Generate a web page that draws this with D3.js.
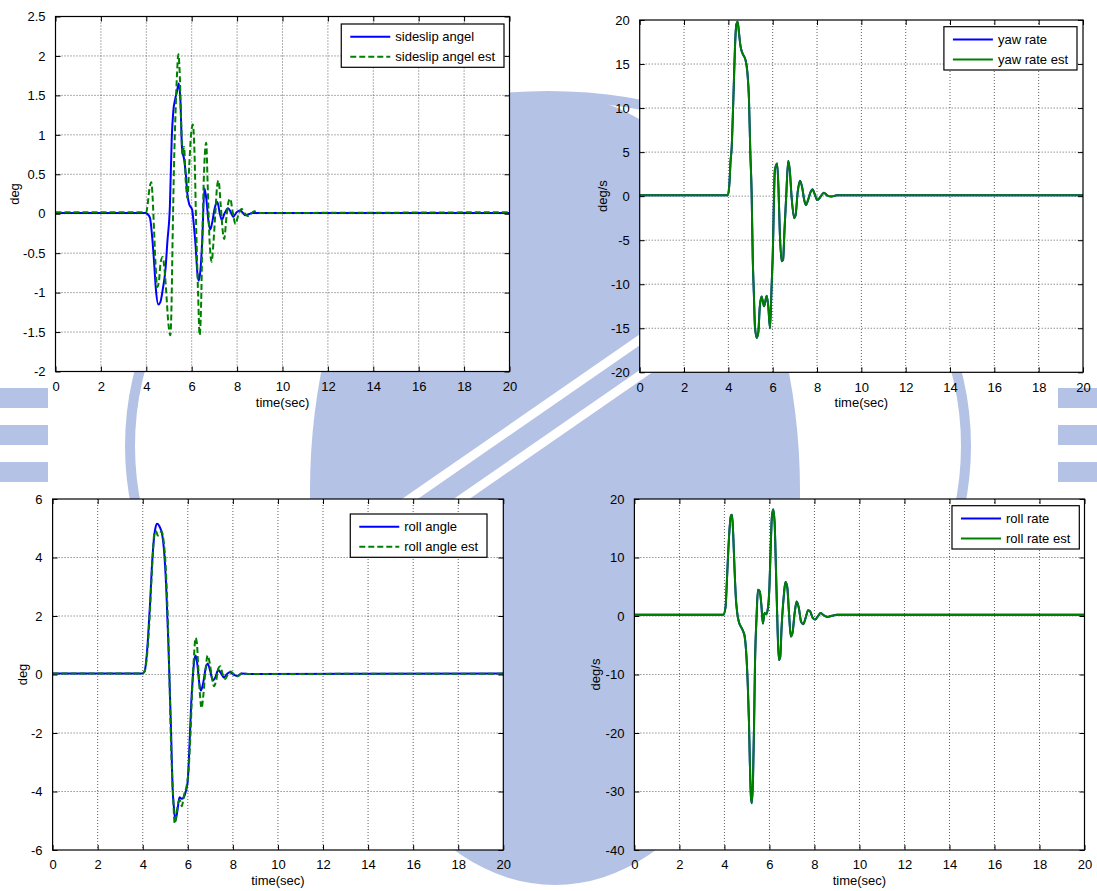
<!DOCTYPE html>
<html><head><meta charset="utf-8">
<script src="https://cdn.jsdelivr.net/npm/d3@7"></script>
<style>
body{margin:0;background:#fff;}
svg{display:block;font-family:"Liberation Sans",Arial,Helvetica,sans-serif;}
</style></head><body>
<svg id="fig" width="1097" height="891"></svg>
<script>
// ---------------- data ----------------
const timeDomain = [0, 20];
const xTicks = [0, 2, 4, 6, 8, 10, 12, 14, 16, 18, 20];
const sideslipTicks = [-2, -1.5, -1, -0.5, 0, 0.5, 1, 1.5, 2, 2.5];
const yawTicks = [-20, -15, -10, -5, 0, 5, 10, 15, 20];
const rollAngleTicks = [-6, -4, -2, 0, 2, 4, 6];
const rollRateTicks = [-40, -30, -20, -10, 0, 10, 20];

const sideslip = [[0,0.01],[4.0,0.01],[4.03,0.0],[4.16,-0.05],[4.26,-0.3],[4.34,-0.6],[4.42,-0.95],[4.53,-1.15],[4.62,-1.12],[4.73,-0.95],[4.84,-0.72],[4.93,-0.35],[5.04,0.1],[5.12,0.95],[5.19,1.3],[5.27,1.45],[5.35,1.55],[5.43,1.65],[5.5,1.45],[5.58,0.8],[5.66,0.7],[5.74,0.5],[5.81,0.25],[5.89,0.12],[6.02,0.05],[6.08,-0.1],[6.17,-0.4],[6.25,-0.75],[6.31,-0.85],[6.39,-0.7],[6.47,-0.3],[6.56,0.32],[6.64,0.2],[6.74,-0.1],[6.82,-0.2],[6.91,-0.1],[7.02,0.08],[7.13,0.15],[7.24,0.0],[7.33,-0.08],[7.44,0.0],[7.6,0.07],[7.72,0.02],[7.83,-0.04],[7.98,0.02],[8.14,0.04],[8.37,-0.02],[8.68,0.01],[9.0,0.01],[20,0.01]];
const sideslipEst = [[0,0.02],[4.0,0.02],[4.06,0.12],[4.13,0.3],[4.22,0.4],[4.28,0.2],[4.34,-0.2],[4.4,-0.6],[4.48,-0.93],[4.56,-0.85],[4.63,-0.62],[4.72,-0.55],[4.8,-0.7],[4.88,-1.0],[4.96,-1.35],[5.06,-1.54],[5.1,-1.3],[5.16,-0.3],[5.22,0.6],[5.29,1.3],[5.35,1.75],[5.41,2.02],[5.47,1.8],[5.53,1.2],[5.6,0.75],[5.66,0.85],[5.74,0.4],[5.81,0.2],[5.89,0.6],[5.97,1.0],[6.05,1.13],[6.12,0.8],[6.2,-0.2],[6.28,-1.0],[6.35,-1.54],[6.41,-1.2],[6.47,-0.3],[6.54,0.5],[6.64,0.9],[6.7,0.4],[6.78,-0.3],[6.88,-0.61],[6.95,-0.4],[7.04,0.0],[7.12,0.35],[7.18,0.42],[7.28,0.1],[7.36,-0.2],[7.43,-0.32],[7.53,-0.05],[7.62,0.15],[7.7,0.19],[7.8,0.03],[7.93,-0.13],[8.05,-0.02],[8.2,0.06],[8.35,0.0],[8.5,-0.03],[8.75,0.03],[9.0,0.01],[20,0.02]];

const yawRate = [[0,0.1],[3.98,0.1],[4.05,1.5],[4.1,4],[4.15,5.5],[4.2,9],[4.25,13],[4.3,17],[4.36,19.5],[4.42,19.8],[4.48,18.5],[4.55,17],[4.64,16.2],[4.77,15.5],[4.86,14],[4.93,11],[4.99,5],[5.05,0.4],[5.1,-7],[5.15,-11],[5.2,-14.8],[5.28,-16.1],[5.35,-15.5],[5.42,-12.5],[5.5,-11.4],[5.61,-12.5],[5.73,-11.3],[5.8,-12.5],[5.88,-15],[5.94,-11],[6.0,-6.9],[6.1,3.0],[6.2,3.7],[6.26,1],[6.32,-4],[6.4,-7.4],[6.47,-7.2],[6.53,-4],[6.61,0],[6.7,4.0],[6.77,3.0],[6.85,0],[6.97,-2.5],[7.03,-2.2],[7.13,0.5],[7.23,1.76],[7.33,1.0],[7.42,-0.4],[7.5,-1.0],[7.6,-0.4],[7.7,0.4],[7.79,0.78],[7.9,0.2],[8.01,-0.43],[8.15,-0.1],[8.31,0.4],[8.45,0.1],[8.66,-0.05],[8.9,0.1],[20,0.1]];
const yawRateEst = [[0,0.1],[3.98,0.1],[4.05,1.5],[4.1,4],[4.15,5.5],[4.2,9],[4.25,13],[4.3,17],[4.36,19.5],[4.42,19.8],[4.48,18.5],[4.55,17],[4.64,16.2],[4.77,15.5],[4.86,14],[4.93,11],[4.99,5],[5.05,0.4],[5.1,-7],[5.15,-11],[5.2,-14.8],[5.28,-16.1],[5.35,-15.5],[5.42,-12.5],[5.5,-11.4],[5.61,-12.5],[5.73,-11.3],[5.8,-12.5],[5.88,-15],[5.94,-11],[6.0,-6.9],[6.1,3.0],[6.2,3.7],[6.26,1],[6.32,-4],[6.4,-7.4],[6.47,-7.2],[6.53,-4],[6.61,0],[6.7,4.0],[6.77,3.0],[6.85,0],[6.97,-2.5],[7.03,-2.2],[7.13,0.5],[7.23,1.76],[7.33,1.0],[7.42,-0.4],[7.5,-1.0],[7.6,-0.4],[7.7,0.4],[7.79,0.78],[7.9,0.2],[8.01,-0.43],[8.15,-0.1],[8.31,0.4],[8.45,0.1],[8.66,-0.05],[8.9,0.1],[20,0.1]];

const rollAngle = [[0,0.03],[3.97,0.03],[4.08,0.1],[4.17,0.6],[4.23,1.2],[4.33,2.5],[4.4,3.6],[4.48,4.5],[4.56,5.0],[4.64,5.15],[4.75,5.05],[4.86,4.8],[4.95,4.2],[5.04,3.0],[5.14,1.0],[5.2,-0.5],[5.26,-2.0],[5.32,-3.8],[5.39,-4.6],[5.45,-5.0],[5.53,-4.7],[5.63,-4.2],[5.73,-4.25],[5.82,-4.2],[5.91,-4.0],[5.99,-3.7],[6.07,-2.5],[6.15,-1.0],[6.23,0.0],[6.29,0.5],[6.35,0.65],[6.43,0.3],[6.51,-0.3],[6.58,-0.55],[6.68,-0.3],[6.79,0.2],[6.88,0.38],[7.0,0.1],[7.11,-0.2],[7.22,-0.1],[7.35,0.15],[7.47,0.05],[7.6,-0.1],[7.72,0.0],[7.86,0.08],[8.02,0.0],[8.17,-0.05],[8.4,0.03],[8.72,0.02],[20,0.03]];
const rollAngleEst = [[0,0.03],[3.97,0.03],[4.08,0.1],[4.17,0.5],[4.28,1.6],[4.36,2.8],[4.44,4.0],[4.51,4.8],[4.59,4.9],[4.67,4.75],[4.75,4.8],[4.83,4.9],[4.92,4.6],[5.01,3.8],[5.1,2.2],[5.18,0.0],[5.26,-2.5],[5.34,-4.0],[5.42,-5.1],[5.49,-4.8],[5.57,-4.4],[5.65,-4.3],[5.73,-4.5],[5.84,-4.1],[5.95,-3.8],[6.04,-3.2],[6.12,-2.0],[6.19,-0.6],[6.28,0.7],[6.34,1.25],[6.4,1.1],[6.46,0.3],[6.54,-0.7],[6.61,-1.15],[6.69,-0.7],[6.79,0.2],[6.88,0.65],[6.97,0.4],[7.07,-0.1],[7.16,-0.4],[7.26,-0.2],[7.35,0.2],[7.44,0.28],[7.53,0.05],[7.66,-0.15],[7.78,0.0],[7.9,0.1],[8.06,0.0],[8.22,-0.06],[8.4,0.04],[8.72,0.02],[20,0.03]];

const rollRate = [[0,0.2],[3.95,0.2],[4.05,1.5],[4.11,6],[4.17,11],[4.23,15],[4.29,17.2],[4.34,17.3],[4.39,14],[4.45,8],[4.51,3],[4.57,0.5],[4.64,-1.0],[4.73,-1.8],[4.82,-2.5],[4.9,-3.5],[4.98,-7],[5.04,-12],[5.09,-18],[5.13,-25],[5.18,-31],[5.22,-32],[5.27,-28],[5.32,-18],[5.36,-8],[5.43,0],[5.49,4.5],[5.57,4.2],[5.64,2],[5.71,-1.3],[5.78,0.5],[5.86,0.3],[5.94,1.5],[6.0,5],[6.05,11],[6.11,17],[6.17,18.2],[6.23,16],[6.29,8],[6.36,-2],[6.42,-7.5],[6.48,-7],[6.54,-2],[6.64,3.5],[6.71,5.8],[6.79,5.0],[6.87,0.5],[6.95,-3.5],[7.02,-3.0],[7.12,0.5],[7.21,2.5],[7.3,1.5],[7.41,-1.0],[7.5,-1.4],[7.61,-0.3],[7.72,1.0],[7.81,0.8],[7.92,-0.3],[8.03,-0.6],[8.16,0.0],[8.28,0.5],[8.42,0.1],[8.57,-0.15],[8.78,0.05],[9.0,0.2],[20,0.2]];
const rollRateEst = [[0,0.2],[3.95,0.2],[4.05,1.5],[4.11,6],[4.17,11],[4.23,15],[4.29,17.2],[4.34,17.3],[4.39,14],[4.45,8],[4.51,3],[4.57,0.5],[4.64,-1.0],[4.73,-1.8],[4.82,-2.5],[4.9,-3.5],[4.98,-7],[5.04,-12],[5.09,-18],[5.13,-25],[5.18,-31],[5.22,-32],[5.27,-28],[5.32,-18],[5.36,-8],[5.43,0],[5.49,4.5],[5.57,4.2],[5.64,2],[5.71,-1.3],[5.78,0.5],[5.86,0.3],[5.94,1.5],[6.0,5],[6.05,11],[6.11,17],[6.17,18.2],[6.23,16],[6.29,8],[6.36,-2],[6.42,-7.5],[6.48,-7],[6.54,-2],[6.64,3.5],[6.71,5.8],[6.79,5.0],[6.87,0.5],[6.95,-3.5],[7.02,-3.0],[7.12,0.5],[7.21,2.5],[7.3,1.5],[7.41,-1.0],[7.5,-1.4],[7.61,-0.3],[7.72,1.0],[7.81,0.8],[7.92,-0.3],[8.03,-0.6],[8.16,0.0],[8.28,0.5],[8.42,0.1],[8.57,-0.15],[8.78,0.05],[9.0,0.2],[20,0.2]];

const xLabel = "time(sec)";
const panelsData = [
  {ylabel:"deg",   yTicks:sideslipTicks,  series:[{name:"sideslip angel", values:sideslip, color:"#0000ff", dash:null},{name:"sideslip angel est", values:sideslipEst, color:"#008000", dash:"6,3"}]},
  {ylabel:"deg/s", yTicks:yawTicks,       series:[{name:"yaw rate", values:yawRate, color:"#0000ff", dash:null},{name:"yaw rate est", values:yawRateEst, color:"#008000", dash:null}]},
  {ylabel:"deg",   yTicks:rollAngleTicks, series:[{name:"roll angle", values:rollAngle, color:"#0000ff", dash:null},{name:"roll angle est", values:rollAngleEst, color:"#008000", dash:"6,3"}]},
  {ylabel:"deg/s", yTicks:rollRateTicks,  series:[{name:"roll rate", values:rollRate, color:"#0000ff", dash:null},{name:"roll rate est", values:rollRateEst, color:"#008000", dash:null}]}
];

// ---------------- layout ----------------
const layout = [
  {left:55.5, right:509.5, top:16.5, bottom:371.5, ylabDx:-41.5, legRight:504,  legTop:24},
  {left:639.7,right:1083,  top:20,   bottom:372.3, ylabDx:-37.5, legRight:1077, legTop:26.7},
  {left:52.6, right:503.3, top:499,  bottom:850,   ylabDx:-30,   legRight:487,  legTop:514},
  {left:634.4,right:1084.5,top:499,  bottom:850,   ylabDx:-39,   legRight:1079.3,legTop:505.7}
];

const svg = d3.select("#fig");
svg.append("rect").attr("width",1097).attr("height",891).attr("fill","#fff");

// ---------------- faint background watermark ----------------
const wmColor = "#b4c2e5";
const wm = svg.append("g").attr("fill", wmColor);
const wcx = 548, wcy = 446;
wm.append("ellipse").attr("cx",555).attr("cy",490).attr("rx",245).attr("ry",395);
[[0,388,48,20],[0,425,48,20],[0,462,48,20],[1058,388,39,20],[1058,425,39,20],[1058,462,39,20]]
  .forEach(r => wm.append("rect").attr("x",r[0]).attr("y",r[1]).attr("width",r[2]).attr("height",r[3]));
svg.append("ellipse").attr("cx",wcx).attr("cy",wcy).attr("rx",418).attr("ry",350)
  .attr("fill","none").attr("stroke",wmColor).attr("stroke-width",10);
const wst = svg.append("g").attr("stroke","#fff").attr("stroke-width",9);
wst.append("line").attr("x1",300).attr("y1",575).attr("x2",820).attr("y2",215);
wst.append("line").attr("x1",330).attr("y1",590).attr("x2",850).attr("y2",230);

// ---------------- panels ----------------
const fmt = d => String(d);
const tickLen = 5;

panelsData.forEach((pd, i) => {
  const L = layout[i];
  const x = d3.scaleLinear().domain(timeDomain).range([L.left, L.right]);
  const yExt = d3.extent(pd.yTicks);
  const y = d3.scaleLinear().domain(yExt).range([L.bottom, L.top]);
  const g = svg.append("g");
  const w = L.right - L.left, h = L.bottom - L.top;

  g.append("rect").attr("x",L.left).attr("y",L.top).attr("width",w).attr("height",h).attr("fill","#fff");

  const grid = g.append("g").attr("stroke","#3a3a3a").attr("stroke-width",1).attr("stroke-dasharray","1,2").attr("stroke-opacity",0.8);
  xTicks.slice(1,-1).forEach(t => grid.append("line").attr("x1",x(t)).attr("x2",x(t)).attr("y1",L.top).attr("y2",L.bottom));
  pd.yTicks.slice(1,-1).forEach(t => grid.append("line").attr("y1",y(t)).attr("y2",y(t)).attr("x1",L.left).attr("x2",L.right));

  const cid = "clip" + i;
  svg.append("clipPath").attr("id",cid).append("rect").attr("x",L.left).attr("y",L.top).attr("width",w).attr("height",h);

  const line = d3.line().x(d => x(d[0])).y(d => y(d[1])).curve(d3.curveMonotoneX);
  const lg = g.append("g").attr("clip-path",`url(#${cid})`);
  pd.series.forEach(s => {
    lg.append("path").datum(s.values).attr("d", line).attr("fill","none")
      .attr("stroke", s.color).attr("stroke-width", 2)
      .attr("stroke-dasharray", s.dash).attr("stroke-linejoin","round");
  });

  g.append("rect").attr("x",L.left).attr("y",L.top).attr("width",w).attr("height",h)
    .attr("fill","none").attr("stroke","#000").attr("stroke-width",1.2);

  const axB = d3.axisBottom(x).tickValues(xTicks).tickFormat(fmt).tickSizeInner(-tickLen).tickSizeOuter(0).tickPadding(10);
  const gb = g.append("g").attr("transform",`translate(0,${L.bottom})`).call(axB);
  const axT = d3.axisTop(x).tickValues(xTicks).tickFormat("").tickSizeInner(-tickLen).tickSizeOuter(0);
  const gt = g.append("g").attr("transform",`translate(0,${L.top})`).call(axT);
  const axL = d3.axisLeft(y).tickValues(pd.yTicks).tickFormat(fmt).tickSizeInner(-tickLen).tickSizeOuter(0).tickPadding(10);
  const gl = g.append("g").attr("transform",`translate(${L.left},0)`).call(axL);
  const axR = d3.axisRight(y).tickValues(pd.yTicks).tickFormat("").tickSizeInner(-tickLen).tickSizeOuter(0);
  const gr = g.append("g").attr("transform",`translate(${L.right},0)`).call(axR);
  [gb,gt,gl,gr].forEach(a => {
    a.select(".domain").remove();
    a.selectAll("line").attr("stroke","#000");
    a.selectAll("text").attr("fill","#000").attr("font-size","13px").attr("font-family","'Liberation Sans',Arial,sans-serif");
  });

  g.append("text").attr("x",(L.left+L.right)/2).attr("y",L.bottom+35).attr("text-anchor","middle")
    .attr("font-size","13px").text(xLabel);
  g.append("text").attr("transform",`translate(${L.left+L.ylabDx},${(L.top+L.bottom)/2}) rotate(-90)`)
    .attr("text-anchor","middle").attr("dy","0.35em").attr("font-size","13px").text(pd.ylabel);

  const leg = g.append("g");
  const box = leg.append("rect").attr("fill","#fff").attr("stroke","#000").attr("stroke-width",1.2);
  const rowsY = [12.7, 32.7];
  let maxW = 0;
  const texts = pd.series.map((s, k) => {
    const t = leg.append("text").attr("font-size","13px").attr("dy","0.35em").text(s.name);
    maxW = Math.max(maxW, t.node().getComputedTextLength());
    return t;
  });
  const bw = 9 + 40 + 5 + maxW + 9, bh = 43.3;
  const bx = L.legRight - bw, by = L.legTop;
  box.attr("x",bx).attr("y",by).attr("width",bw).attr("height",bh);
  pd.series.forEach((s, k) => {
    leg.append("line").attr("x1",bx+9).attr("x2",bx+49).attr("y1",by+rowsY[k]).attr("y2",by+rowsY[k])
      .attr("stroke",s.color).attr("stroke-width",2).attr("stroke-dasharray",s.dash);
    texts[k].attr("x",bx+54).attr("y",by+rowsY[k]);
  });
});
</script>
</body></html>
